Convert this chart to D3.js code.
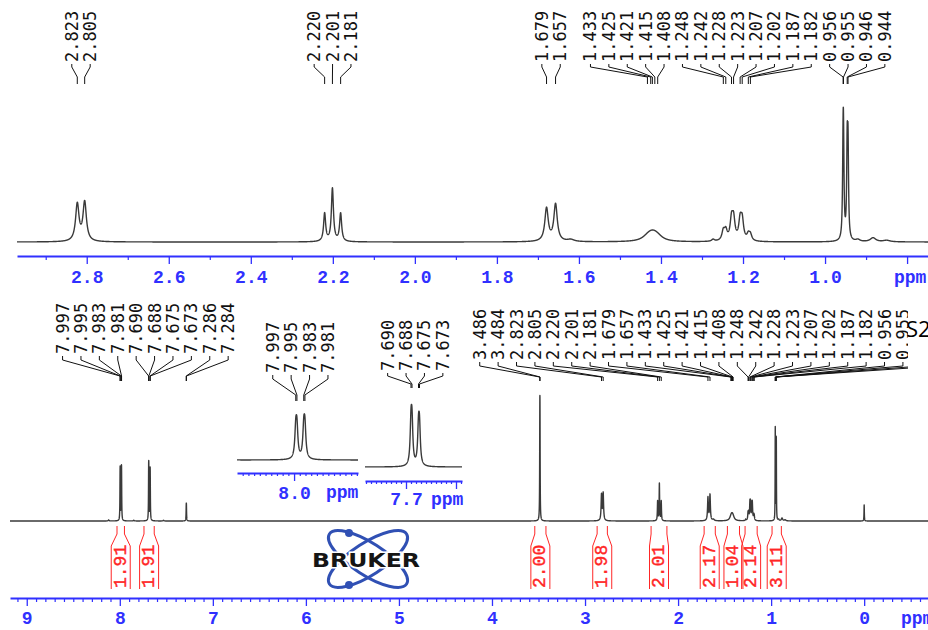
<!DOCTYPE html>
<html>
<head>
<meta charset="utf-8">
<script src="https://cdn.jsdelivr.net/npm/d3@7"></script>
<style>
  body { margin: 0; background: #fff; }
</style>
</head>
<body>
<div id="chart-area"></div>
<script>
/*
*    1H NMR spectrum, Bruker style
*/

// labelled lines: shift (ppm), height, half width (ppm)
var linePpm = [7.997, 7.995, 7.983, 7.981, 7.690, 7.688, 7.675, 7.673, 7.286, 7.284,
  3.486, 3.484, 2.823, 2.805, 2.220, 2.201, 2.181, 1.679, 1.657,
  1.433, 1.425, 1.421, 1.415, 1.408, 1.248, 1.242, 1.228, 1.223, 1.207, 1.202, 1.187, 1.182,
  0.956, 0.955, 0.946, 0.944];
var lineHeight = [48, 48, 49, 49, 53, 53, 47, 47, 16, 16,
  112, 112, 37, 39, 28, 53, 28, 33, 37,
  3, 3, 3, 3, 3, 9.5, 9.5, 20, 20, 19, 19, 6, 6,
  73, 73, 84, 84];
var lineWidth = [0.002, 0.002, 0.002, 0.002, 0.002, 0.002, 0.002, 0.002, 0.002, 0.002,
  0.002, 0.002, 0.005, 0.005, 0.003, 0.003, 0.003, 0.005, 0.005,
  0.015, 0.015, 0.015, 0.015, 0.015, 0.004, 0.004, 0.004, 0.004, 0.004, 0.004, 0.004, 0.004,
  0.0015, 0.0015, 0.0015, 0.0015];

// small unlabelled signals (TMS, impurities)
var minorPpm = [0.000, 1.620, 1.273, 0.920, 0.883, 0.850, 8.120, 7.850, 7.530];
var minorHeight = [23, 2, 2, 2, 4, 1.5, 1.5, 1, 1];
var minorWidth = [0.002, 0.01, 0.004, 0.006, 0.008, 0.01, 0.005, 0.005, 0.005];

// integrals
var integralFrom = [8.03, 7.74, 3.54, 2.87, 2.29, 1.72, 1.47, 1.28, 0.99];
var integralTo = [7.95, 7.63, 3.42, 2.76, 2.12, 1.60, 1.34, 1.15, 0.89];
var integralValue = ["1.91", "1.91", "2.00", "1.98", "2.01", "2.17", "1.04", "2.14", "3.11"];

// axis ticks
var topMajor = [2.8, 2.6, 2.4, 2.2, 2.0, 1.8, 1.6, 1.4, 1.2, 1.0, 0.8];
var topMinor = [2.9, 2.7, 2.5, 2.3, 2.1, 1.9, 1.7, 1.5, 1.3, 1.1, 0.9];
var mainMajor = [9, 8, 7, 6, 5, 4, 3, 2, 1, 0];
var inset1Major = [8.0];
var inset2Major = [7.7, 7.6];

var blue = "#3030ff";
var red = "#ff2626";
var labelFont = "DejaVu Sans Mono";
var axisFont = "Liberation Mono";

var svg = d3.select("#chart-area")
  .append("svg")
  .attr("width", 928)
  .attr("height", 630)
  .style("display", "block");

// scales
var xTop = d3.scaleLinear().domain([2.97, 0.749]).range([17, 928]);
var yTop = d3.scaleLinear().domain([0, 139]).range([242, 103]);
var xMain = d3.scaleLinear().domain([9.18, -0.686]).range([10, 928]);
var yMain = d3.scaleLinear().domain([0, 180]).range([521, 395]);
var xIn1 = d3.scaleLinear().domain([8.10, 7.888]).range([237, 358]);
var yIn1 = d3.scaleLinear().domain([0, 80]).range([460, 414]);
var xIn2 = d3.scaleLinear().domain([7.782, 7.588]).range([365, 462]);
var yIn2 = d3.scaleLinear().domain([0, 87]).range([467, 404]);

function lorentz(p, c, h, g) {
  var d = p - c;
  return h * g * g / (g * g + d * d);
}

function intensity(p) {
  var s = 0;
  for (var i = 0; i < linePpm.length; i++) s += lorentz(p, linePpm[i], lineHeight[i], lineWidth[i]);
  for (var j = 0; j < minorPpm.length; j++) s += lorentz(p, minorPpm[j], minorHeight[j], minorWidth[j]);
  return s;
}

function trace(x, step) {
  var dom = x.domain();
  var hi = dom[0], lo = dom[1];
  var pts = d3.range(lo, hi, step);
  linePpm.concat(minorPpm).forEach(function(p) { if (p > lo && p < hi) pts.push(p); });
  pts.push(hi);
  pts.sort(function(a, b) { return b - a; });
  return pts.map(function(p) { return [p, intensity(p)]; });
}

function drawSpectrum(x, y, step) {
  var line = d3.line()
    .x(function(d) { return x(d[0]); })
    .y(function(d) { return y(d[1]); });
  svg.append("path")
    .attr("d", line(trace(x, step)))
    .attr("fill", "none")
    .attr("stroke", "#3a3a3a")
    .attr("stroke-width", 1.4)
    .attr("stroke-linejoin", "round");
}

function drawAxis(x, y, major, minor, fmt, bigTick, smallTick, pad) {
  var g = svg.append("g")
    .attr("transform", "translate(0," + y + ")")
    .call(d3.axisBottom(x).tickValues(major).tickSize(bigTick).tickSizeOuter(0)
      .tickPadding(pad).tickFormat(fmt))
    .attr("color", blue)
    .attr("font-family", axisFont)
    .attr("font-size", 18)
    .attr("font-weight", "bold");
  g.select(".domain").attr("stroke-width", 2);
  g.selectAll(".tick line").attr("stroke-width", 1.3);
  g.selectAll(".tick text").attr("fill", blue);

  var m = svg.append("g")
    .attr("transform", "translate(0," + y + ")")
    .call(d3.axisBottom(x).tickValues(minor).tickSize(smallTick).tickSizeOuter(0).tickFormat(""))
    .attr("color", blue);
  m.select(".domain").remove();
  m.selectAll(".tick line").attr("stroke-width", 1.2);
}

function axisLabel(xPos, yPos, txt) {
  svg.append("text")
    .attr("x", xPos)
    .attr("y", yPos)
    .attr("font-family", axisFont)
    .attr("font-size", 18)
    .attr("font-weight", "bold")
    .attr("fill", blue)
    .text(txt);
}

// spread labels evenly so they do not overlap, each cluster centred on its peaks
function spread(xs, gap) {
  var groups = xs.map(function(v) { return { sum: v, n: 1 }; });
  var merged = true;
  while (merged) {
    merged = false;
    for (var i = 0; i < groups.length - 1; i++) {
      var a = groups[i], b = groups[i + 1];
      var aEnd = a.sum / a.n + (a.n - 1) * gap / 2;
      var bStart = b.sum / b.n - (b.n - 1) * gap / 2;
      if (bStart - aEnd < gap) {
        groups.splice(i, 2, { sum: a.sum + b.sum, n: a.n + b.n });
        merged = true;
        break;
      }
    }
  }
  var out = [];
  groups.forEach(function(g) {
    var c = g.sum / g.n;
    for (var k = 0; k < g.n; k++) out.push(c + (k - (g.n - 1) / 2) * gap);
  });
  return out;
}

function peakLabels(x, lo, hi, textBottom, y0b, y1, y2) {
  var shifts = linePpm.filter(function(p) { return p > lo && p < hi; });
  var peakX = shifts.map(function(p) { return x(p); });
  var labX = spread(peakX, 18.4);
  var conn = d3.line();
  shifts.forEach(function(p, i) {
    svg.append("path")
      .attr("d", conn([[labX[i], textBottom + 2], [labX[i], y0b], [peakX[i], y1], [peakX[i], y2]]))
      .attr("fill", "none")
      .attr("stroke", "#111")
      .attr("stroke-width", 1);
    svg.append("text")
      .attr("transform", "translate(" + labX[i] + "," + textBottom + ") rotate(-90)")
      .attr("font-family", labelFont)
      .attr("font-size", 17)
      .attr("dominant-baseline", "central")
      .attr("fill", "#111")
      .text(p.toFixed(3));
  });
}

// ---- top expanded panel
drawSpectrum(xTop, yTop, 0.0002);
drawAxis(xTop, 256, topMajor, topMinor,
  function(d) { return d < 0.9 ? "" : d.toFixed(1); }, 8, 4, 6);
axisLabel(894, 283, "ppm");
peakLabels(xTop, 0.9, 2.97, 62, 67, 77, 84);

// ---- full spectrum
drawSpectrum(xMain, yMain, 0.0005);
var mainMinor = d3.range(-6, 92)
  .filter(function(v) { return v % 10 !== 0; })
  .map(function(v) { return v / 10; });
drawAxis(xMain, 598, mainMajor, mainMinor, d3.format("d"), 8, 4, 5);
axisLabel(901, 624, "ppm");
peakLabels(xMain, 7, 8.1, 354, 360, 376, 381);
peakLabels(xMain, 0.9, 4, 360, 366, 377, 381);

// ---- insets
drawSpectrum(xIn1, yIn1, 0.0002);
var in1Minor = d3.range(789, 810)
  .filter(function(v) { return v !== 800; })
  .map(function(v) { return v / 100; });
drawAxis(xIn1, 473, inset1Major, in1Minor, d3.format(".1f"), 8, 3, 5);
axisLabel(326, 498, "ppm");
peakLabels(xIn1, 7.9, 8.1, 373, 379, 395, 401);

drawSpectrum(xIn2, yIn2, 0.0002);
var in2Minor = d3.range(759, 779)
  .filter(function(v) { return v !== 770 && v !== 760; })
  .map(function(v) { return v / 100; });
drawAxis(xIn2, 481, inset2Major, in2Minor,
  function(d) { return d < 7.65 ? "" : d.toFixed(1); }, 8, 3, 3);
axisLabel(431, 505, "ppm");
peakLabels(xIn2, 7.6, 7.8, 371, 376, 384, 388);

// ---- integrals
var bracket = d3.line();
integralValue.forEach(function(v, i) {
  var x1 = xMain(integralFrom[i]), x2 = xMain(integralTo[i]);
  var cx = (x1 + x2) / 2, half = 9.5;
  [[x1, cx - half], [x2, cx + half]].forEach(function(s) {
    svg.append("path")
      .attr("d", bracket([[s[0], 526], [s[0], 534], [s[1], 546], [s[1], 589]]))
      .attr("fill", "none")
      .attr("stroke", red)
      .attr("stroke-width", 1);
  });
  svg.append("text")
    .attr("transform", "translate(" + cx + ",588) rotate(-90)")
    .attr("font-family", axisFont)
    .attr("font-size", 18)
    .attr("dominant-baseline", "central")
    .attr("fill", red)
    .attr("stroke", red)
    .attr("stroke-width", 0.4)
    .text(v);
});

// ---- Bruker logo
var logo = svg.append("g").attr("transform", "translate(368,559)");
[33, -33].forEach(function(a) {
  logo.append("ellipse")
    .attr("rx", 46)
    .attr("ry", 16)
    .attr("transform", "rotate(" + a + ")")
    .attr("fill", "none")
    .attr("stroke", "#3050b4")
    .attr("stroke-width", 3);
});
[[-19, -26], [-19, 26]].forEach(function(d) {
  logo.append("circle")
    .attr("cx", d[0])
    .attr("cy", d[1])
    .attr("r", 4)
    .attr("fill", "#3050b4");
});
logo.append("text")
  .attr("x", -2)
  .attr("y", 7.5)
  .attr("text-anchor", "middle")
  .attr("font-family", "DejaVu Sans")
  .attr("font-weight", "bold")
  .attr("font-size", 19)
  .attr("textLength", 108)
  .attr("lengthAdjust", "spacingAndGlyphs")
  .attr("fill", "#151515")
  .attr("stroke", "#fff")
  .attr("stroke-width", 3)
  .attr("paint-order", "stroke")
  .text("BRUKER");

// ---- page marker
svg.append("rect")
  .attr("x", 908)
  .attr("y", 292)
  .attr("width", 20)
  .attr("height", 92)
  .attr("fill", "#fff");
svg.append("text")
  .attr("x", 906)
  .attr("y", 337)
  .attr("font-family", "Open Sans")
  .attr("font-size", 22)
  .attr("fill", "#000")
  .text("S2");
</script>
</body>
</html>
